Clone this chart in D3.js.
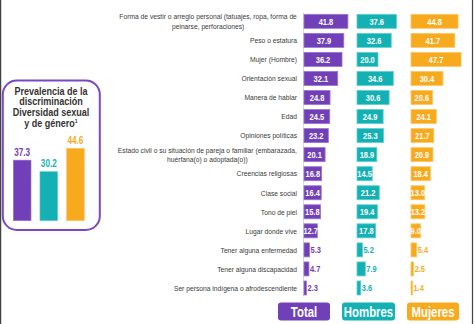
<!DOCTYPE html>
<html><head><meta charset="utf-8">
<script src="https://cdn.jsdelivr.net/npm/d3@7/dist/d3.min.js"></script>
<style>
html,body{margin:0;padding:0;background:#fff;}
svg{display:block;}
</style></head>
<body>
<script>
const categories = [
  ["Forma de vestir o arreglo personal (tatuajes, ropa, forma de","peinarse, perforaciones)"],
  ["Peso o estatura"],
  ["Mujer (Hombre)"],
  ["Orientación sexual"],
  ["Manera de hablar"],
  ["Edad"],
  ["Opiniones políticas"],
  ["Estado civil o su situación de pareja o familiar (embarazada,","huérfana(o) o adoptada(o))"],
  ["Creencias religiosas"],
  ["Clase social"],
  ["Tono de piel"],
  ["Lugar donde vive"],
  ["Tener alguna enfermedad"],
  ["Tener alguna discapacidad"],
  ["Ser persona indígena o afrodescendiente"]
];
const total   = [41.8,37.9,36.2,32.1,24.8,24.5,23.2,20.1,16.8,16.4,15.8,12.7,5.3,4.7,2.3];
const hombres = [37.6,32.6,20.0,34.6,30.6,24.9,25.3,18.9,14.5,21.2,19.4,17.8,5.2,7.9,3.6];
const mujeres = [44.8,41.7,47.7,30.4,20.6,24.1,21.7,20.9,18.4,13.0,13.2,9.0,5.4,2.5,1.4];
const seriesNames = ["Total","Hombres","Mujeres"];
const prevalence = [37.3,30.2,44.6];
const titleLines = ["Prevalencia de la","discriminación","Diversidad sexual","y de género"];

const colors = ["#7140b8","#13b1b3","#f8aa1e"];
const strokes = ["#9a75d0","#5fd0d0","#fcc766"];
const W = 474, H = 324;
const svg = d3.select("body").append("svg").attr("width",W).attr("height",H);
svg.append("rect").attr("width",W).attr("height",H).attr("fill","#fff");

svg.append("line").attr("x1",0.5).attr("x2",0.5).attr("y1",0).attr("y2",H).attr("stroke","#444").attr("stroke-width",1.5);
svg.append("line").attr("x1",472.5).attr("x2",472.5).attr("y1",0).attr("y2",H).attr("stroke","#444").attr("stroke-width",1.2);

const font = "'Liberation Sans',Arial,sans-serif";
function ctext(parent, x, y, sx) {
  return parent.append("g").attr("transform",`translate(${x},${y}) scale(${sx},1)`)
    .append("text").attr("x",0).attr("y",0).attr("font-family",font);
}

const y = d3.scaleBand().domain(d3.range(categories.length)).range([11.8, 297.5]).padding(0);
const barH = 14;
const starts = [304, 357, 411];
const xs = starts.map(s => d3.scaleLinear().domain([0,50]).range([s, s+52.5]));
const data = [total, hombres, mujeres];

svg.append("line").attr("x1",303.5).attr("x2",303.5).attr("y1",y(0)+1).attr("y2",y(categories.length-1)+y.bandwidth()-1)
  .attr("stroke","#d0d0d0").attr("stroke-width",0.8);

// category labels
const labG = svg.append("g");
const labSx = 0.84, labRight = 297;
categories.forEach((lines,i) => {
  const cy = y(i) + y.bandwidth()/2;
  const n = lines.length;
  if (n === 1) {
    ctext(labG, labRight, cy + 2.8, labSx)
      .attr("text-anchor","end").attr("font-size",8).attr("fill","#3a3a3a").text(lines[0]);
  } else {
    // measure widest line, then center lines as a block right-aligned at labRight
    const tmp = labG.append("text").attr("font-family",font).attr("font-size",8);
    const maxW = d3.max(lines, l => { tmp.text(l); return tmp.node().getComputedTextLength(); }) * labSx;
    tmp.remove();
    const cx = labRight - maxW/2;
    lines.forEach((l,j) => {
      ctext(labG, cx, cy + (j - (n-1)/2)*9.8 + 2.8, labSx)
        .attr("text-anchor","middle").attr("font-size",8).attr("fill","#3a3a3a").text(l);
    });
  }
});

// bars
data.forEach((vals,s) => {
  const g = svg.append("g");
  const x = xs[s];
  g.selectAll("rect").data(vals).join("rect")
    .attr("x", x(0)).attr("y",(d,i)=>y(i)+(y.bandwidth()-barH)/2)
    .attr("width", d=>x(d)-x(0)).attr("height",barH)
    .attr("fill",colors[s]).attr("stroke",strokes[s]).attr("stroke-width",0.8);
  vals.forEach((d,i) => {
    const inside = d >= 8.5;
    ctext(g, inside ? (x(0)+x(d))/2 : x(d)+1, y(i)+y.bandwidth()/2+3.3, 0.83)
      .attr("text-anchor", inside ? "middle" : "start")
      .attr("font-weight","bold").attr("font-size",9)
      .attr("fill", inside ? "#fff" : colors[s])
      .text(d.toFixed(1));
  });
});

// legend
const legX = [278, 342, 407], legW = [52, 53, 52];
seriesNames.forEach((n,i) => {
  svg.append("rect").attr("x",legX[i]).attr("y",302.5).attr("width",legW[i]).attr("height",18)
    .attr("rx",3).attr("fill",colors[i]);
  ctext(svg, legX[i]+legW[i]/2, 317, 0.76).attr("text-anchor","middle")
    .attr("font-weight","bold").attr("font-size",15).attr("fill","#fff").text(n);
});

// left box
svg.append("rect").attr("x",2.8).attr("y",80.5).attr("width",97).attr("height",149.5).attr("rx",14)
  .attr("fill","#fff").attr("stroke","#7a48c4").attr("stroke-width",2);
titleLines.forEach((l,j) => {
  const t = ctext(svg, 51, 94.5+j*10.9, 0.86).attr("text-anchor","middle")
    .attr("font-weight","bold").attr("font-size",10.5).attr("fill","#333");
  t.append("tspan").text(l);
  if (j === titleLines.length-1) t.append("tspan").attr("font-size",6).attr("dy",-4).text("1");
});
const mx = d3.scaleBand().domain(seriesNames).range([13.3, 84.3]).paddingInner(0.336).paddingOuter(0);
const my = d3.scaleLinear().domain([0,50]).range([220.7, 220.7-81.2]);
svg.append("g").selectAll("rect").data(prevalence).join("rect")
  .attr("x",(d,i)=>mx(seriesNames[i])).attr("width",mx.bandwidth())
  .attr("y",d=>my(d)).attr("height",d=>my(0)-my(d))
  .attr("fill",(d,i)=>colors[i]).attr("stroke",(d,i)=>strokes[i]).attr("stroke-width",0.6);
const mg = svg.append("g");
prevalence.forEach((d,i) => {
  ctext(mg, mx(seriesNames[i])+mx.bandwidth()/2, my(d)-4.5, 0.78).attr("text-anchor","middle")
    .attr("font-weight","bold").attr("font-size",10.5).attr("fill",colors[i]).text(d.toFixed(1));
});
</script>
</body></html>
